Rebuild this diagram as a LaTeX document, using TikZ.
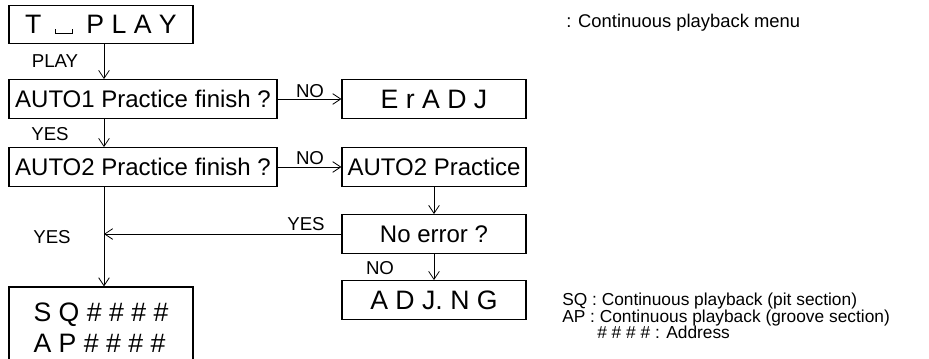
\documentclass[tikz,border=0pt]{standalone}
\usepackage{fontspec}
\setmainfont{Liberation Sans}
\usetikzlibrary{arrows.meta}

% open box that stands for a blank character
\newcommand{\blankmark}{\rule{0.8pt}{3.5pt}\rule{12pt}{0.8pt}\rule{0.8pt}{3.5pt}}

\begin{document}
\begin{tikzpicture}[x=0.75pt, y=-0.75pt,
  box/.style={draw, line width=0.9pt, inner sep=0pt, minimum height=29pt,
    font=\fontsize{18}{22}\selectfont},
  wide/.style={box, minimum width=201pt},
  narrow/.style={box, minimum width=138pt},
  seg/.style={font=\fontsize{20}{23.25}\selectfont},
  lbl/.style={font=\fontsize{14}{16}\selectfont},
  note/.style={anchor=base west, inner sep=0pt, font=\fontsize{13}{16}\selectfont},
  flow/.style={line width=0.6pt, -{Straight Barb[length=6pt, width=8pt]}}]
\useasboundingbox (0,0) rectangle (929,358);
\clip (0,0) rectangle (929,358);

% boxes
\node[narrow, seg] (play) at (101,24.5)
  {T\hspace{10pt}\blankmark\hspace{10pt}P L A Y};
\node[wide] (auto1) at (143,99) {AUTO1 Practice finish ?};
\node[narrow, seg] (eradj) at (434,99) {E r A D J};
\node[wide] (auto2) at (143,167) {AUTO2 Practice finish ?};
\node[narrow] (practice) at (434,167) {AUTO2 Practice};
\node[narrow] (noerr) at (434,234) {No error ?};
\node[narrow, seg] (adjng) at (434,300) {A D J. N G};
\node[narrow, seg, minimum height=60.75pt, align=left] (sqap) at (101,327.5)
  {S Q \# \# \# \#\\A P \# \# \# \#};

% branch labels
\node[lbl] (lplay) at (55,61) {PLAY};
\node[lbl] (lyes1) at (50,134) {YES};
\node[lbl] (lno1) at (310,91) {NO};
\node[lbl] (lno2) at (310,158) {NO};
\node[lbl] (lyes2) at (306,224) {YES};
\node[lbl] (lyes3) at (52,237) {YES};
\node[lbl] (lno3) at (380,268) {NO};

% notes
\node[note, font=\fontsize{13.8}{16}\selectfont] (nmenu) at (566,27)
  {: Continuous playback menu};
\node[note] (nsq) at (562,305) {SQ : Continuous playback (pit section)};
\node[note] (nap) at (562,322) {AP : Continuous playback (groove section)};
\node[note] (naddr) at (597,338) {\# \# \# \# : Address};

% connectors
\coordinate (spine) at (104,0);
\draw[flow] (play.south -| spine) -- (auto1.north -| spine);
\draw[flow] (auto1.south -| spine) -- (auto2.north -| spine);
\draw[flow] (auto2.south -| spine) -- (sqap.north -| spine);
\draw[flow] (auto1.east) -- (eradj.west);
\draw[flow] (auto2.east) -- (practice.west);
\draw[flow] (practice) -- (noerr);
\draw[flow] (noerr) -- (adjng);
\draw[flow] (noerr.west) -- (noerr.west -| spine);
\end{tikzpicture}
\end{document}
